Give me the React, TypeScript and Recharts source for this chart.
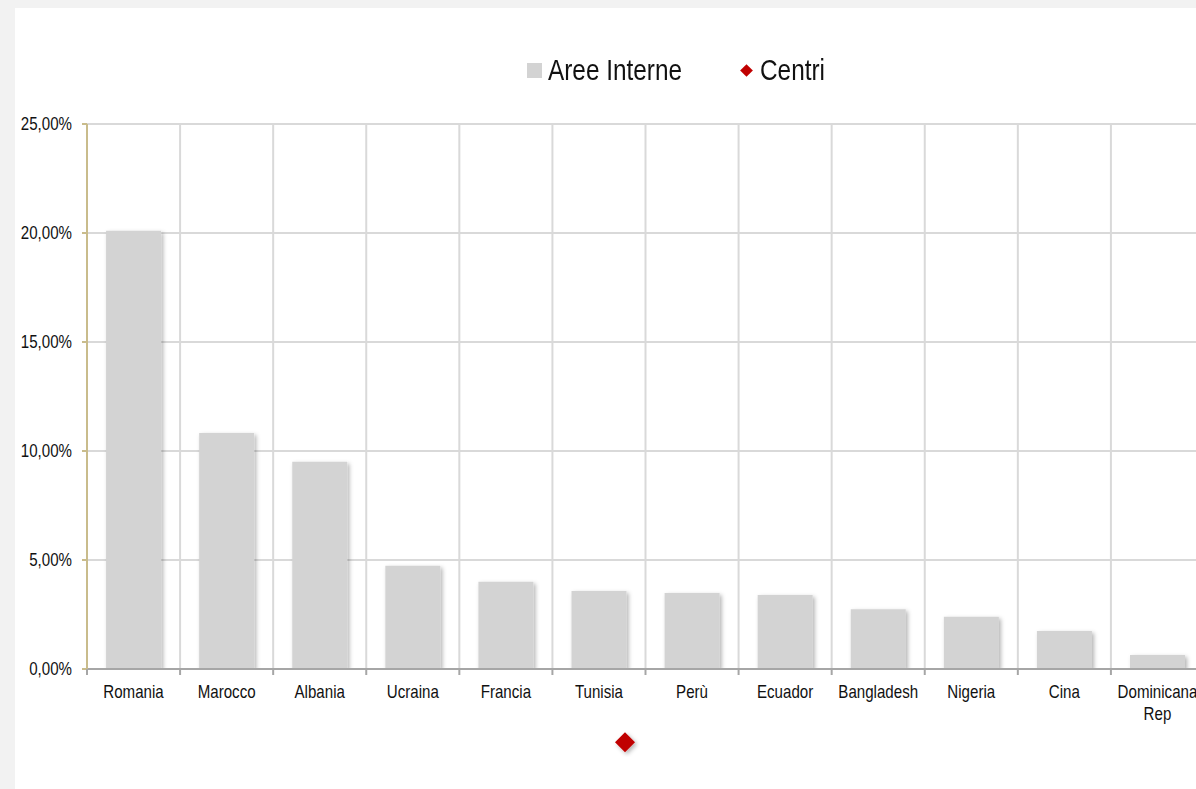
import React from "react";
import {Bar, CartesianGrid, ComposedChart, Legend, ReferenceDot, XAxis, YAxis} from "recharts";

const countries = [
    "Romania",
    "Marocco",
    "Albania",
    "Ucraina",
    "Francia",
    "Tunisia",
    "Perù",
    "Ecuador",
    "Bangladesh",
    "Nigeria",
    "Cina",
    "Dominicana Rep",
];

// percent values
const areeInterne = [20.1, 10.83, 9.51, 4.74, 4.0, 3.58, 3.49, 3.39, 2.74, 2.4, 1.74, 0.64];

// Centri: only one point shows, below the axis, slightly right of Tunisia
const centriPos = [5.78];
const centriVal = [-3.36];

const yTicks = [0, 5, 10, 15, 20, 25];

const legendItems = [
    {name: "Aree Interne", color: "#d3d3d3", shape: "square"},
    {name: "Centri", color: "#c00000", shape: "diamond"},
];

const data = countries.map((name, i) => ({name, idx: i + 0.5, aree: areeInterne[i]}));
const centriPoints = centriPos.map((x, i) => ({x, y: centriVal[i]}));

const CHART_W = 1189;
const CHART_H = 781;
const Y_W = 72;
const BAND = (CHART_W - Y_W) / countries.length;
const FONT = '"Liberation Sans", Arial, sans-serif';
const SQUEEZE = 0.84;

const fmtPct = (v: number) => v.toFixed(2).replace(".", ",") + "%";

const CountryTick = (props: any) => {
    const {x, y, payload} = props;
    const lines = String(payload.value).split(" ");
    return (
        <g>
            <line x1={x - BAND / 2} y1={y} x2={x - BAND / 2} y2={y + 6} stroke="#a6a6a6" strokeWidth={2}/>
            <g transform={`translate(${x},${y + 29}) scale(${SQUEEZE},1)`}>
                <text x={0} y={0} textAnchor="middle" fill="#111" fontSize={18} fontFamily={FONT}>
                    {lines.map((l, i) => (
                        <tspan key={i} x={0} dy={i === 0 ? 0 : 22}>{l}</tspan>
                    ))}
                </text>
            </g>
        </g>
    );
};

const PctTick = (props: any) => {
    const {x, y, payload} = props;
    return (
        <g transform={`translate(${x},${y}) scale(${SQUEEZE},1)`}>
            <text x={0} y={0} dy="0.36em" textAnchor="end" fill="#111" fontSize={18} fontFamily={FONT}>
                {fmtPct(payload.value)}
            </text>
        </g>
    );
};

const Diamond = (props: any) => {
    const {cx, cy} = props;
    const r = 10;
    return (
        <polygon
            points={`${cx},${cy - r} ${cx + r},${cy} ${cx},${cy + r} ${cx - r},${cy}`}
            fill="#c00000"
            filter="url(#softShadow)"
        />
    );
};

const itemWidths = [213, 120];

const LegendContent = () => (
    <div style={{display: "flex", alignItems: "center", fontFamily: FONT, fontSize: 29, color: "#111", paddingLeft: 512, height: 40}}>
        {legendItems.map((item, i) => (
            <div key={item.name} style={{display: "flex", alignItems: "center", width: itemWidths[i], whiteSpace: "nowrap"}}>
                {item.shape === "square" ? (
                    <div style={{width: 15, height: 15, background: item.color, marginRight: 6, flex: "none"}}/>
                ) : (
                    <div style={{width: 9, height: 9, background: item.color, transform: "rotate(45deg)", marginRight: 9, marginLeft: 2, flex: "none"}}/>
                )}
                <span style={{display: "inline-block", transform: `scaleX(${SQUEEZE})`, transformOrigin: "left center"}}>{item.name}</span>
            </div>
        ))}
    </div>
);

export default function App() {
    return (
        <div style={{position: "absolute", left: 0, top: 0, width: 1196, height: 789, background: "#f2f2f2", overflow: "hidden"}}>
            <div style={{position: "absolute", left: 15, top: 8, width: 1181, height: 781, background: "#ffffff"}}/>
            <div style={{position: "absolute", left: 15, top: 8}}>
                <ComposedChart
                    width={CHART_W}
                    height={CHART_H}
                    data={data}
                    margin={{top: 116, right: 0, bottom: 80, left: 0}}
                    barCategoryGap="20.5%"
                >
                    <defs>
                        <filter id="softShadow" x="-20%" y="-20%" width="140%" height="140%">
                            <feDropShadow dx={2} dy={2} stdDeviation={2} floodColor="#000" floodOpacity={0.3}/>
                        </filter>
                    </defs>
                    <CartesianGrid
                        stroke="#d9d9d9"
                        strokeWidth={2}
                        verticalCoordinatesGenerator={({offset}: any) =>
                            countries.map((_, i) => offset.left + i * (offset.width / countries.length)).concat(offset.left + offset.width)
                        }
                    />
                    <Legend verticalAlign="middle" align="center" wrapperStyle={{top: 42, left: 0, width: CHART_W}} content={LegendContent}/>
                    <XAxis
                        dataKey="name"
                        interval={0}
                        tickSize={0}
                        tickMargin={0}
                        tickLine={false}
                        height={40}
                        stroke="#a6a6a6"
                        strokeWidth={2}
                        tick={<CountryTick/>}
                    />
                    <XAxis xAxisId="pos" dataKey="idx" type="number" domain={[0, countries.length]} allowDataOverflow hide/>
                    <YAxis
                        width={Y_W}
                        domain={[0, 25]}
                        ticks={yTicks}
                        allowDataOverflow
                        stroke="#c9bc8c"
                        strokeWidth={2}
                        tickSize={5}
                        tickMargin={10}
                        tick={<PctTick/>}
                    />
                    <Bar dataKey="aree" name="Aree Interne" fill="#d3d3d3" isAnimationActive={false} filter="url(#softShadow)"/>
                    {centriPoints.map((p, i) => (
                        <ReferenceDot key={i} xAxisId="pos" x={p.x} y={p.y} ifOverflow="visible" shape={<Diamond/>}/>
                    ))}
                </ComposedChart>
            </div>
        </div>
    );
}
